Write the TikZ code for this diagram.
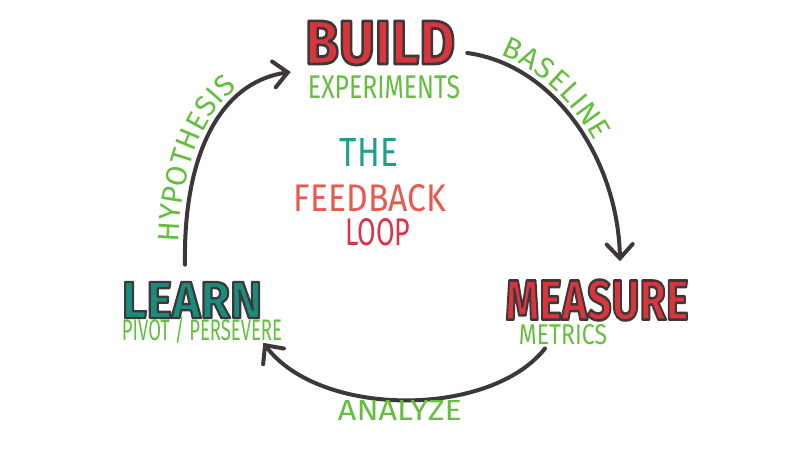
\documentclass[tikz,border=0pt]{standalone}
\usepackage{fontspec}
\setmainfont{Fira Sans}
\newfontfamily\handfont[LetterSpace = 6]{Fira Sans}
\usepackage{graphicx}
\usetikzlibrary{arrows.meta, calc, decorations.text}

\definecolor{ink}{HTML}{3D373A}
\definecolor{inkred}{HTML}{D8363D}
\definecolor{inkteal}{HTML}{1A8C7C}
\definecolor{inkgreen}{HTML}{64BF3C}
\definecolor{theteal}{HTML}{1FA08F}
\definecolor{feedred}{HTML}{E85A50}
\definecolor{loopred}{HTML}{D8344A}

\tikzset{
  word/.style = {inner sep = 0pt},
  hand/.style = {inner sep = 0pt, text = inkgreen},
  loop arrow/.style = {draw = ink, line width = 0.1cm, line cap = round,
    -{Straight Barb[length = 3.5mm, width = 6.5mm, line cap = round]}},
  arc label/.style 2 args = {decorate, decoration = {text along path, raise = 4.5pt,
    text = {|\color{inkgreen}\handfont\fontsize{21}{21}\selectfont|#2},
    text align = {left, left indent = #1}}},
}

% filled and stroked text
\newcommand{\outlined}[1]{\special{pdf:literal direct 2 Tr 0.45 w 1 j 0.239 0.216 0.227 RG}#1\special{pdf:literal direct 0 Tr}}
% big outlined word: width, height, colour, text
\newcommand{\bigword}[4]{\resizebox{#1}{#2}{\textcolor{#3}{\outlined{\bfseries #4}}}}
% hand written label: width, height, text
\newcommand{\handword}[3]{\resizebox{#1}{#2}{#3}}

\begin{document}
\begin{tikzpicture} [x = 0.025cm, y = 0.025cm]
\useasboundingbox (0, 0) rectangle (800, 450);

% the three steps
\node[word] (build) at (380, 407){\bigword{3.75cm}{1.075cm}{inkred}{BUILD}};
\node[hand] (experiments) at (384, 363){\handword{3.8cm}{0.575cm}{EXPERIMENTS}};
\node[word] (measure) at (597, 150){\bigword{4.575cm}{1.0cm}{inkred}{MEASURE}};
\node[hand] (metrics) at (563, 115){\handword{2.2cm}{0.5cm}{METRICS}};
\node[word] (learn) at (192, 150){\bigword{3.5cm}{0.9cm}{inkteal}{LEARN}};
\node[hand] (pivot) at (202, 120){\handword{4.0cm}{0.6cm}{PIVOT / PERSEVERE}};

% title in the middle
\node[word, text = theteal] (the) at (369, 298){\handword{1.45cm}{0.7cm}{THE}};
\node[word, text = feedred] (feedback) at (370, 252){\handword{3.8cm}{0.675cm}{FEEDBACK}};
\node[word, text = loopred] (loop) at (378, 218){\handword{1.625cm}{0.675cm}{LOOP}};

% arrows round the loop
\draw[loop arrow] ($(build.east) + (12, -10)$) .. controls (555, 385) and (618, 290) .. ($(measure.north) + (23, 18)$);
\draw[loop arrow] ($(metrics.south) + (-18, -3)$) .. controls (490, 32) and (320, 32) .. ($(pivot.south east) + (-19, 1)$);
\draw[loop arrow] ($(learn.north) + (-7, 17)$) .. controls (183, 295) and (220, 368) .. ($(build.west) + (-14, -29)$);

% arrow labels
\path[arc label = {0.8cm}{BASELINE}] ($(build.east) + (12, -10)$) .. controls (555, 385) and (618, 290) .. ($(measure.north) + (23, 18)$);
\node[hand] (analyze) at (400, 40){\handword{3.1cm}{0.5cm}{ANALYZE}};
\path[arc label = {0.55cm}{HYPOTHESIS}] ($(learn.north) + (-7, 17)$) .. controls (183, 295) and (220, 368) .. ($(build.west) + (-14, -29)$);
\end{tikzpicture}
\end{document}
